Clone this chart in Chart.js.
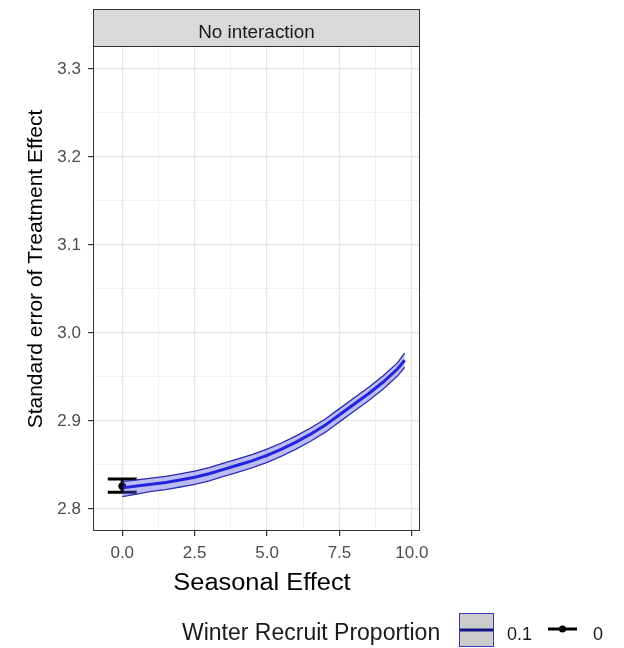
<!DOCTYPE html>
<html>
<head>
<meta charset="UTF-8">
<title>No interaction</title>
<script src="https://cdn.jsdelivr.net/npm/chart.js"></script>
<style>
html, body { margin: 0; padding: 0; background: #fff; }
</style>
</head>
<body>
<canvas id="myChart" width="624" height="648"></canvas>
<script>
// seasonal effect values and the fitted standard error (ribbon = low/high)
const seasonal = [0, 0.5, 1, 1.5, 2, 2.5, 3, 3.5, 4, 4.5, 5, 5.5, 6, 6.5, 7, 7.5, 8, 8.5, 9, 9.5, 9.75];
const seMid  = [2.824, 2.826, 2.828, 2.830, 2.833, 2.836, 2.840, 2.845, 2.850, 2.855, 2.861, 2.868, 2.876, 2.885, 2.895, 2.907, 2.919, 2.931, 2.944, 2.959, 2.969];
const seHigh = [2.831, 2.833, 2.835, 2.837, 2.840, 2.843, 2.847, 2.852, 2.857, 2.862, 2.868, 2.875, 2.883, 2.892, 2.902, 2.914, 2.926, 2.938, 2.951, 2.966, 2.977];
const seLow  = [2.814, 2.817, 2.820, 2.822, 2.825, 2.828, 2.832, 2.837, 2.842, 2.847, 2.853, 2.860, 2.868, 2.877, 2.887, 2.899, 2.911, 2.923, 2.936, 2.951, 2.961];

// winter recruit proportion = 0 (point + error bar)
const baseX    = [0];
const baseMean = [2.826];
const baseLow  = [2.819];
const baseHigh = [2.834];

const xMajor = [0, 2.5, 5, 7.5, 10];
const xMinor = [1.25, 3.75, 6.25, 8.75];
const yMajor = [2.8, 2.9, 3.0, 3.1, 3.2, 3.3];
const yMinor = [2.85, 2.95, 3.05, 3.15, 3.25];

const FONT = "'Liberation Sans', Arial, sans-serif";
Chart.defaults.font.family = FONT;

function isIn(list, v) {
  return list.some(m => Math.abs(m - v) < 1e-9);
}

function txt(ctx, s, x, y, size, color, align, sx) {
  ctx.save();
  ctx.translate(x, y);
  ctx.scale(sx || 1, 1);
  ctx.font = size + 'px ' + FONT;
  ctx.fillStyle = color;
  ctx.textAlign = align;
  ctx.textBaseline = 'alphabetic';
  ctx.fillText(s, 0, 0);
  ctx.restore();
}

const panelDecor = {
  id: 'panelDecor',
  beforeDraw(chart) {
    const c = chart.ctx;
    c.save();
    c.fillStyle = '#fff';
    c.fillRect(0, 0, chart.width, chart.height);
    c.restore();
  },
  afterDatasetDraw(chart, args) {
    if (args.index !== 2) return;
    const ctx = chart.ctx, x = chart.scales.x, y = chart.scales.y;
    ctx.save();
    ctx.strokeStyle = '#000';
    ctx.lineWidth = 3;
    baseX.forEach((bx, i) => {
      const l = x.getPixelForValue(bx - 0.5), r = x.getPixelForValue(bx + 0.5), m = x.getPixelForValue(bx);
      const t = y.getPixelForValue(baseHigh[i]), b = y.getPixelForValue(baseLow[i]);
      ctx.beginPath();
      ctx.moveTo(l, t); ctx.lineTo(r, t);
      ctx.moveTo(m, t); ctx.lineTo(m, b);
      ctx.moveTo(l, b); ctx.lineTo(r, b);
      ctx.stroke();
    });
    ctx.restore();
  },
  afterDraw(chart) {
    const ctx = chart.ctx, a = chart.chartArea;
    const w = a.right - a.left;
    ctx.save();
    ctx.strokeStyle = '#333';
    ctx.lineWidth = 1;
    ctx.strokeRect(a.left + 0.5, a.top + 0.5, w - 1, a.bottom - a.top - 1);
    // facet strip
    ctx.fillStyle = '#d9d9d9';
    ctx.fillRect(a.left, 9, w, a.top - 9);
    ctx.strokeRect(a.left + 0.5, 9.5, w - 1, a.top - 9);
    ctx.restore();
    txt(ctx, 'No interaction', (a.left + a.right) / 2, 38, 17.5, '#1a1a1a', 'center', 1.08);

    // axis titles
    txt(ctx, 'Seasonal Effect', 262, 590, 23.5, '#000', 'center', 1.08);
    ctx.save();
    ctx.translate(36, 269);
    ctx.rotate(-Math.PI / 2);
    ctx.font = '21px ' + FONT;
    ctx.fillStyle = '#000';
    ctx.textAlign = 'center';
    ctx.textBaseline = 'middle';
    ctx.fillText('Standard error of Treatment Effect', 0, 0);
    ctx.restore();

    // legend
    txt(ctx, 'Winter Recruit Proportion', 182, 640, 23, '#1a1a1a', 'left');
    ctx.save();
    ctx.fillStyle = '#cccccc';
    ctx.fillRect(459, 613, 35, 34);
    ctx.strokeStyle = '#3a3ab8';
    ctx.lineWidth = 1;
    ctx.strokeRect(459.5, 613.5, 34, 33);
    ctx.strokeStyle = '#14148c';
    ctx.lineWidth = 3;
    ctx.beginPath(); ctx.moveTo(460, 630); ctx.lineTo(493, 630); ctx.stroke();
    ctx.strokeStyle = '#000';
    ctx.beginPath(); ctx.moveTo(548, 629); ctx.lineTo(577, 629); ctx.stroke();
    ctx.fillStyle = '#000';
    ctx.beginPath(); ctx.arc(562.5, 629, 3.5, 0, Math.PI * 2); ctx.fill();
    ctx.restore();
    txt(ctx, '0.1', 507, 640, 18, '#1a1a1a', 'left');
    txt(ctx, '0', 593, 640, 18, '#1a1a1a', 'left');
  }
};

const gridOpts = (major) => ({
  color: c => isIn(major, c.tick.value) ? '#e4e4e4' : '#f0f0f0',
  lineWidth: c => isIn(major, c.tick.value) ? 1.2 : 1,
  tickColor: c => isIn(major, c.tick.value) ? '#333' : 'rgba(0,0,0,0)',
  tickLength: 5
});

new Chart(document.getElementById('myChart'), {
  type: 'line',
  data: {
    datasets: [
      {
        data: seasonal.map((x, i) => ({ x: x, y: seHigh[i] })),
        borderColor: '#2828a8', borderWidth: 1.3,
        backgroundColor: 'rgba(80,80,235,0.38)', fill: '+1', pointRadius: 0
      },
      {
        data: seasonal.map((x, i) => ({ x: x, y: seLow[i] })),
        borderColor: '#2828a8', borderWidth: 1.3, fill: false, pointRadius: 0
      },
      {
        data: seasonal.map((x, i) => ({ x: x, y: seMid[i] })),
        borderColor: '#0a0ad2', borderWidth: 3, fill: false, pointRadius: 0
      },
      {
        data: baseX.map((x, i) => ({ x: x, y: baseMean[i] })),
        showLine: false, pointRadius: 3.5,
        pointBackgroundColor: '#000', pointBorderColor: '#000'
      }
    ]
  },
  options: {
    responsive: false,
    animation: false,
    layout: { padding: { left: 0, top: 46, right: 204, bottom: 0 } },
    plugins: { legend: { display: false }, tooltip: { enabled: false } },
    scales: {
      x: {
        type: 'linear', min: -1.01, max: 10.28, bounds: 'data',
        afterBuildTicks: s => { s.ticks = xMajor.concat(xMinor).sort((a, b) => a - b).map(v => ({ value: v })); },
        afterFit: s => { s.height = 117; },
        ticks: {
          autoSkip: false, maxRotation: 0, padding: 7, color: '#4d4d4d', font: { size: 17 },
          callback: v => isIn(xMajor, v) ? v.toFixed(1) : ''
        },
        grid: gridOpts(xMajor),
        border: { display: false }
      },
      y: {
        type: 'linear', min: 2.775, max: 3.326, bounds: 'data',
        afterBuildTicks: s => { s.ticks = yMajor.concat(yMinor).sort((a, b) => a - b).map(v => ({ value: v })); },
        afterFit: s => { s.width = 93; },
        ticks: {
          autoSkip: false, padding: 7, color: '#4d4d4d', font: { size: 17 },
          callback: v => isIn(yMajor, v) ? v.toFixed(1) : ''
        },
        grid: gridOpts(yMajor),
        border: { display: false }
      }
    }
  },
  plugins: [panelDecor]
});
</script>
</body>
</html>
